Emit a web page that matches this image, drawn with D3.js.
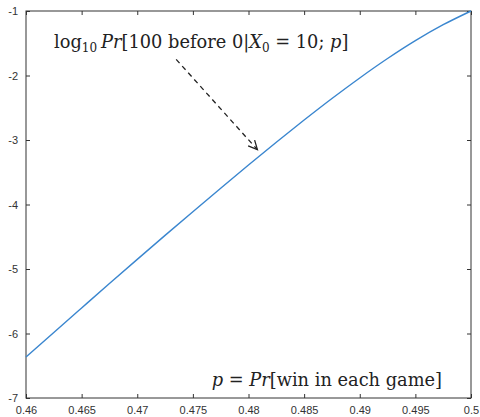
<!DOCTYPE html>
<html>
<head>
<meta charset="utf-8">
<script src="https://cdn.jsdelivr.net/npm/d3@7"></script>
<style>
  body { margin: 0; background: #fff; }
  .tick text { font-family: "Liberation Sans", Arial, sans-serif; font-size: 11px; fill: #333; }
  .tick line { stroke: #333; }
  .math { font-family: "DejaVu Serif", "Liberation Serif", serif; font-size: 17.8px; fill: #222; }
</style>
</head>
<body>
<div id="chart"></div>
<script>
// values (log10 probability vs p)
var pValues = [0.46, 0.4625, 0.465, 0.4675, 0.47, 0.4725, 0.475, 0.4775, 0.48,
               0.4825, 0.485, 0.4875, 0.49, 0.4925, 0.495, 0.4975, 0.5];
var logProb = [-6.365, -5.983, -5.604, -5.226, -4.851, -4.479, -4.111, -3.747, -3.387,
               -3.035, -2.691, -2.357, -2.038, -1.737, -1.460, -1.213, -1.0];
var xTicks = [0.46, 0.465, 0.47, 0.475, 0.48, 0.485, 0.49, 0.495, 0.5];
var yTicks = [-7, -6, -5, -4, -3, -2, -1];

var svg = d3.select("#chart").append("svg").attr("width", 480).attr("height", 417);

var margin = { top: 11, right: 9, bottom: 19, left: 26 };
var width = 480 - margin.left - margin.right;
var height = 417 - margin.top - margin.bottom;

var x = d3.scaleLinear().domain([0.46, 0.5]).range([0, width]);
var y = d3.scaleLinear().domain([-7, -1]).range([height, 0]);

var g = svg.append("g").attr("transform", "translate(" + margin.left + "," + margin.top + ")");

var fmt = function (d) { return String(d); };

g.append("g")
    .attr("class", "axis axis--x")
    .attr("transform", "translate(0," + height + ")")
    .call(d3.axisBottom(x).tickValues(xTicks).tickFormat(fmt).tickSizeInner(-4).tickSizeOuter(0).tickPadding(8));

g.append("g")
    .attr("class", "axis axis--y")
    .call(d3.axisLeft(y).tickValues(yTicks).tickFormat(fmt).tickSizeInner(-4).tickSizeOuter(0).tickPadding(8));

g.append("g")
    .call(d3.axisTop(x).tickValues(xTicks).tickFormat("").tickSizeInner(-4).tickSizeOuter(0));

g.append("g")
    .attr("transform", "translate(" + width + ",0)")
    .call(d3.axisRight(y).tickValues(yTicks).tickFormat("").tickSizeInner(-4).tickSizeOuter(0));

g.selectAll(".domain").remove();

g.append("rect")
    .attr("width", width)
    .attr("height", height)
    .attr("fill", "none")
    .attr("stroke", "#333")
    .attr("stroke-width", 1);

var line = d3.line()
    .x(function (d, i) { return x(pValues[i]); })
    .y(function (d) { return y(d); })
    .curve(d3.curveCatmullRom);

g.append("path")
    .datum(logProb)
    .attr("fill", "none")
    .attr("stroke", "#3a86cf")
    .attr("stroke-width", 1.4)
    .attr("d", line);

// annotation arrow
var arrowFrom = [0.4735, -1.75];
var arrowTo = [0.4808, -3.15];
var x1 = x(arrowFrom[0]), y1 = y(arrowFrom[1]);
var x2 = x(arrowTo[0]), y2 = y(arrowTo[1]);

g.append("line")
    .attr("x1", x1).attr("y1", y1)
    .attr("x2", x2).attr("y2", y2)
    .attr("stroke", "#222")
    .attr("stroke-width", 1.3)
    .attr("stroke-dasharray", "5,4");

var ang = Math.atan2(y2 - y1, x2 - x1);
var head = 10, spread = 0.45;
g.append("path")
    .attr("d", "M" + (x2 - head * Math.cos(ang - spread)) + "," + (y2 - head * Math.sin(ang - spread)) +
        "L" + x2 + "," + y2 +
        "L" + (x2 - head * Math.cos(ang + spread)) + "," + (y2 - head * Math.sin(ang + spread)))
    .attr("fill", "none")
    .attr("stroke", "#222")
    .attr("stroke-width", 1.3);

// label on top
var t1 = g.append("text").attr("class", "math")
    .attr("x", x(0.46) + 28).attr("y", y(-1.5) + 5);
t1.append("tspan").text("log");
t1.append("tspan").attr("font-size", "12px").attr("dy", 4).text("10");
t1.append("tspan").attr("dy", -4).attr("dx", 4).attr("font-style", "italic").text("Pr");
t1.append("tspan").text("[100 before 0|");
t1.append("tspan").attr("font-style", "italic").text("X");
t1.append("tspan").attr("font-size", "12px").attr("dy", 4).text("0");
t1.append("tspan").attr("dy", -4).text(" = 10; ");
t1.append("tspan").attr("font-style", "italic").text("p");
t1.append("tspan").text("]");

// label on bottom
var t2 = g.append("text").attr("class", "math")
    .attr("x", width - 29).attr("y", height - 12)
    .attr("text-anchor", "end");
t2.append("tspan").attr("font-style", "italic").text("p");
t2.append("tspan").text(" = ");
t2.append("tspan").attr("font-style", "italic").text("Pr");
t2.append("tspan").text("[win in each game]");
</script>
</body>
</html>
